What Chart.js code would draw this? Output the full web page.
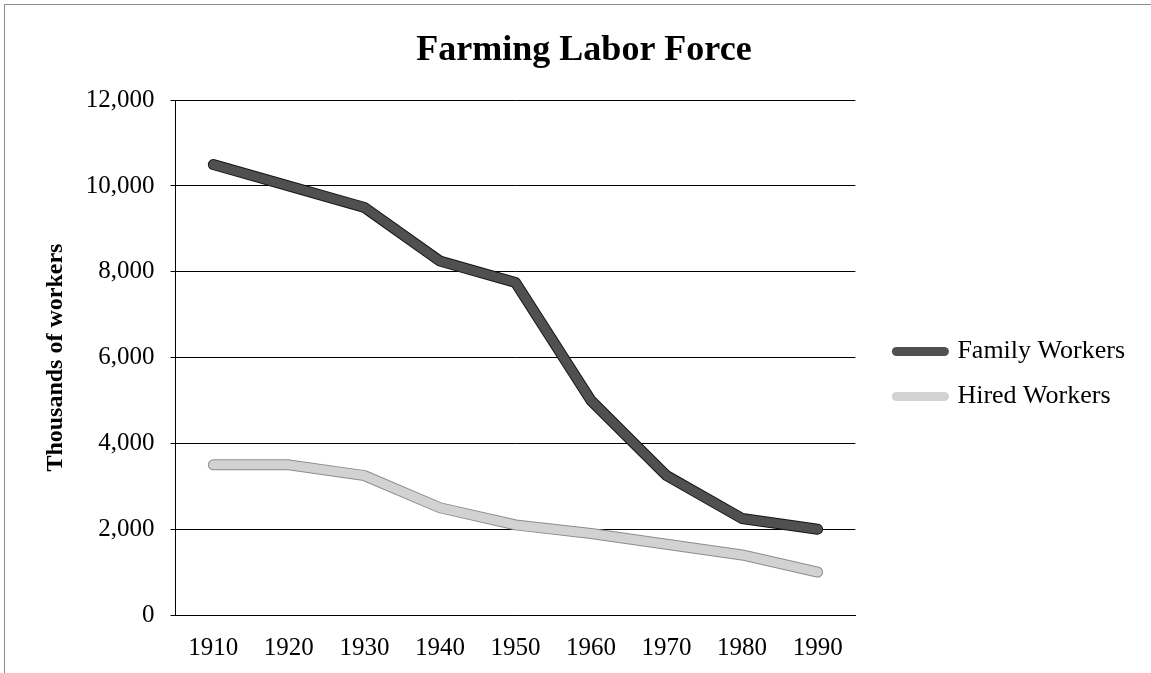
<!DOCTYPE html>
<html>
<head>
<meta charset="utf-8">
<script src="https://cdn.jsdelivr.net/npm/chart.js@4.4.0/dist/chart.umd.min.js"></script>
<style>
  body { margin: 0; background: #fff; }
  #wrap { position: absolute; left: 4px; top: 4px; width: 1147px; height: 669px; box-sizing: border-box;
          border-left: 1px solid #8a8a8a; border-top: 1px solid #8a8a8a; }
</style>
</head>
<body>
<div id="wrap"><canvas id="laborChart"></canvas></div>
<script>
// Farming labor force, thousands of workers
const years = ['1910', '1920', '1930', '1940', '1950', '1960', '1970', '1980', '1990'];
const familyWorkers = [10500, 10000, 9500, 8250, 7750, 5000, 3250, 2250, 2000];
const hiredWorkers = [3500, 3500, 3250, 2500, 2100, 1900, 1650, 1400, 1000];
const yTicks = [0, 2000, 4000, 6000, 8000, 10000, 12000];

const serif = "'Liberation Serif', 'Times New Roman', serif";
const legendGap = 22;

const outline = {
    id: 'outline',
    afterInit(chart) {
        // leave an empty strip between the plot and the legend
        const lg = chart.legend;
        const fit = lg.fit;
        lg.fit = function () {
            fit.call(this);
            this.width += legendGap;
        };
        const draw = lg.draw;
        lg.draw = function () {
            this.left += legendGap;
            draw.call(this);
            this.left -= legendGap;
        };
    },
    // darker edge under each thick line, like the printed original
    beforeDatasetDraw(chart, args) {
        const pts = args.meta.data;
        const ds = chart.data.datasets[args.index];
        const ctx = chart.ctx;
        ctx.save();
        ctx.beginPath();
        pts.forEach((p, i) => i ? ctx.lineTo(p.x, p.y) : ctx.moveTo(p.x, p.y));
        ctx.lineWidth = ds.borderWidth + 2;
        ctx.strokeStyle = ds.edgeColor;
        ctx.lineJoin = 'round';
        ctx.lineCap = 'round';
        ctx.stroke();
        ctx.restore();
    }
};

const ctx = document.getElementById('laborChart');

new Chart(ctx, {
    type: 'line',
    data: {
        labels: years,
        datasets: [{
                label: 'Family Workers',
                data: familyWorkers,
                borderColor: '#505050',
                edgeColor: '#151515',
                borderWidth: 9,
                borderCapStyle: 'round',
                borderJoinStyle: 'round',
                pointRadius: 0,
                tension: 0
            },
            {
                label: 'Hired Workers',
                data: hiredWorkers,
                borderColor: '#d2d2d2',
                edgeColor: '#8c8c8c',
                borderWidth: 9,
                borderCapStyle: 'round',
                borderJoinStyle: 'round',
                pointRadius: 0,
                tension: 0
            }
        ]
    },
    plugins: [outline],
    options: {
        responsive: true,
        maintainAspectRatio: false,
        animation: false,
        layout: {
            padding: { left: 28, right: 16, bottom: 0 }
        },
        plugins: {
            title: {
                display: true,
                text: 'Farming Labor Force',
                color: '#000',
                font: { family: serif, size: 36, weight: 'bold' },
                padding: { top: 24, bottom: 28 }
            },
            legend: {
                position: 'right',
                title: {
                    display: true,
                    text: ' ',
                    font: { size: 10 },
                    padding: 29
                },
                labels: {
                    color: '#000',
                    font: { family: serif, size: 26 },
                    usePointStyle: true,
                    pointStyle: 'line',
                    pointStyleWidth: 48,
                    padding: 19,
                    generateLabels: chart => {
                        const items = Chart.defaults.plugins.legend.labels.generateLabels(chart);
                        items.forEach(it => { it.lineCap = 'round'; it.lineWidth = 9; });
                        return items;
                    }
                }
            },
            tooltip: { enabled: false }
        },
        scales: {
            x: {
                offset: true,
                grid: { display: false },
                border: { display: true, color: '#000', width: 1 },
                ticks: {
                    color: '#000',
                    font: { family: serif, size: 25 },
                    padding: 10
                }
            },
            y: {
                min: 0,
                max: 12000,
                afterBuildTicks: axis => { axis.ticks = yTicks.map(v => ({ value: v })); },
                grid: { color: '#000', lineWidth: 1, tickLength: 5 },
                border: { display: true, color: '#000', width: 1 },
                ticks: {
                    color: '#000',
                    font: { family: serif, size: 25 },
                    padding: 16,
                    callback: v => v.toLocaleString('en-US')
                },
                title: {
                    display: true,
                    text: 'Thousands of workers',
                    color: '#000',
                    font: { family: serif, size: 24, weight: 'bold' },
                    padding: { top: 8, bottom: 0 }
                }
            }
        }
    }
});
</script>
</body>
</html>
